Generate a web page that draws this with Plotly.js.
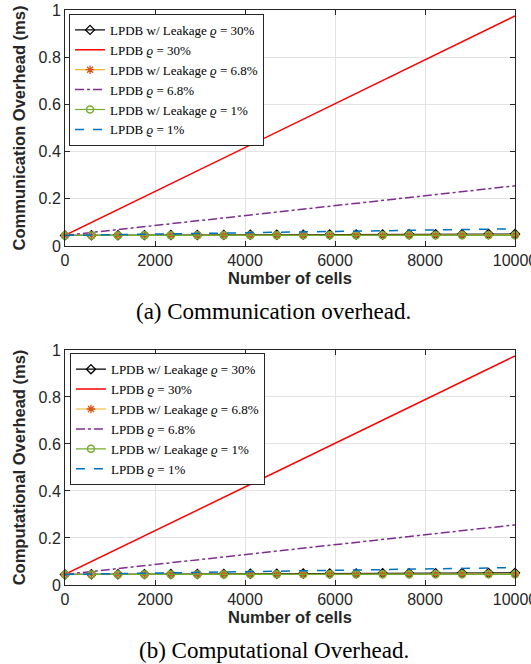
<!DOCTYPE html>
<html>
<head>
<meta charset="utf-8">
<script src="https://cdn.plot.ly/plotly-3.0.1.min.js"></script>
<style>html,body{margin:0;padding:0;background:#fff;}#chart{width:531px;height:664px;}</style>
</head>
<body>
<div id="chart"></div>
<script>
// Number of cells (x values)
var cells = [0, 588, 1176, 1765, 2353, 2941, 3529, 4118, 4706, 5294, 5882, 6471, 7059, 7647, 8235, 8824, 9412, 10000];

// Series names
var seriesNames = [
  "LPDB w/ Leakage <i>ϱ</i> = 30%",
  "LPDB <i>ϱ</i> = 30%",
  "LPDB w/ Leakage <i>ϱ</i> = 6.8%",
  "LPDB <i>ϱ</i> = 6.8%",
  "LPDB w/ Leakage <i>ϱ</i> = 1%",
  "LPDB <i>ϱ</i> = 1%"
];

// (a) Communication overhead (ms)
var commLeak30 = [0.045, 0.0454, 0.0457, 0.0461, 0.0464, 0.0468, 0.0471, 0.0475, 0.0478, 0.0482, 0.0485, 0.0489, 0.0492, 0.0496, 0.0499, 0.0503, 0.0506, 0.051];
var commLpdb30 = [0.045, 0.0997, 0.1544, 0.2091, 0.2638, 0.3185, 0.3732, 0.428, 0.4827, 0.5373, 0.592, 0.6468, 0.7015, 0.7562, 0.8109, 0.8656, 0.9203, 0.975];
var commLeak68 = [0.045, 0.0451, 0.0452, 0.0453, 0.0454, 0.0455, 0.0456, 0.0457, 0.0458, 0.0459, 0.046, 0.0461, 0.0462, 0.0463, 0.0464, 0.0465, 0.0466, 0.0467];
var commLpdb68 = [0.045, 0.0573, 0.0697, 0.0821, 0.0944, 0.1068, 0.1191, 0.1315, 0.1438, 0.1562, 0.1685, 0.1809, 0.1932, 0.2056, 0.2179, 0.2303, 0.2427, 0.255];
var commLeak1 = [0.045, 0.045, 0.045, 0.0451, 0.0451, 0.0451, 0.0451, 0.0452, 0.0452, 0.0452, 0.0453, 0.0453, 0.0453, 0.0453, 0.0454, 0.0454, 0.0454, 0.0455];
var commLpdb1 = [0.045, 0.0466, 0.0483, 0.0499, 0.0516, 0.0532, 0.0549, 0.0565, 0.0582, 0.0598, 0.0615, 0.0631, 0.0648, 0.0664, 0.0681, 0.0697, 0.0714, 0.073];

// (b) Computational overhead (ms)
var compLeak30 = [0.045, 0.0454, 0.0458, 0.0462, 0.0466, 0.047, 0.0474, 0.0477, 0.0481, 0.0485, 0.0489, 0.0493, 0.0497, 0.05, 0.0504, 0.0508, 0.0512, 0.0516];
var compLpdb30 = [0.045, 0.0997, 0.1544, 0.2091, 0.2638, 0.3185, 0.3732, 0.428, 0.4827, 0.5373, 0.592, 0.6468, 0.7015, 0.7562, 0.8109, 0.8656, 0.9203, 0.975];
var compLeak68 = [0.045, 0.0451, 0.0452, 0.0453, 0.0454, 0.0455, 0.0456, 0.0457, 0.0458, 0.0459, 0.046, 0.0461, 0.0462, 0.0463, 0.0464, 0.0465, 0.0466, 0.0467];
var compLpdb68 = [0.045, 0.0574, 0.0698, 0.0822, 0.0946, 0.107, 0.1194, 0.1318, 0.1442, 0.1566, 0.169, 0.1814, 0.1938, 0.2062, 0.2186, 0.231, 0.2434, 0.2558];
var compLeak1 = [0.045, 0.045, 0.045, 0.0451, 0.0451, 0.0451, 0.0451, 0.0452, 0.0452, 0.0452, 0.0453, 0.0453, 0.0453, 0.0453, 0.0454, 0.0454, 0.0454, 0.0455];
var compLpdb1 = [0.045, 0.0467, 0.0484, 0.0501, 0.0518, 0.0535, 0.0552, 0.0569, 0.0586, 0.0603, 0.062, 0.0637, 0.0654, 0.0671, 0.0688, 0.0705, 0.0722, 0.074];

// Tick labels
var xTicks = [0, 2000, 4000, 6000, 8000, 10000];
var xTickText = ["0", "2000", "4000", "6000", "8000", "10000"];
var yTicks = [0, 0.2, 0.4, 0.6, 0.8, 1];
var yTickText = ["0", "0.2", "0.4", "0.6", "0.8", "1"];

var styles = [
  {mode: "lines+markers", line: {color: "#000000", width: 1.2}, marker: {symbol: "diamond-open", size: 7, color: "#000000", line: {width: 1.3}}},
  {mode: "lines", line: {color: "#ff0000", width: 1.5}},
  {mode: "lines+markers", line: {color: "#EDB120", width: 1.2}, marker: {symbol: "asterisk-open", size: 7, color: "#D95319", line: {width: 1.3, color: "#D95319"}}},
  {mode: "lines", line: {color: "#7E2F8E", width: 1.5, dash: "dashdot"}},
  {mode: "lines+markers", line: {color: "#77AC30", width: 1.2}, marker: {symbol: "circle-open", size: 7, color: "#77AC30", line: {width: 1.5, color: "#77AC30"}}},
  {mode: "lines", line: {color: "#0072BD", width: 1.5, dash: "dash"}}
];

function build(series, xa, ya, legendId) {
  return series.map(function (ys, i) {
    var s = styles[i];
    var t = {x: cells, y: ys, name: seriesNames[i], type: "scatter", mode: s.mode, line: s.line,
             xaxis: xa, yaxis: ya, legend: legendId, cliponaxis: false};
    if (s.marker) t.marker = s.marker;
    return t;
  });
}

var data = build([commLeak30, commLpdb30, commLeak68, commLpdb68, commLeak1, commLpdb1], "x", "y", "legend")
  .concat(build([compLeak30, compLpdb30, compLeak68, compLpdb68, compLeak1, compLpdb1], "x2", "y2", "legend2"));

var tickFont = {family: "Liberation Sans, Arial, sans-serif", size: 16, color: "#262626"};
var titleFont = {family: "Liberation Sans, Arial, sans-serif", size: 16.5, color: "#262626", weight: "bold"};

function xAxis(anchor) {
  return {domain: [0, 1], anchor: anchor, range: [0, 10000], tickvals: xTicks, ticktext: xTickText,
    ticks: "inside", ticklen: 5, tickcolor: "#262626", mirror: "ticks", showline: true, linecolor: "#262626", linewidth: 1,
    showgrid: true, gridcolor: "#e3e3e3", zeroline: false, tickfont: tickFont, ticklabeloverflow: "allow",
    title: {text: "<b>Number of cells</b>", font: titleFont, standoff: 2}};
}
function yAxis(anchor, dom, title) {
  return {domain: dom, anchor: anchor, range: [0, 1], tickvals: yTicks, ticktext: yTickText,
    ticks: "inside", ticklen: 5, tickcolor: "#262626", mirror: "ticks", showline: true, linecolor: "#262626", linewidth: 1,
    showgrid: true, gridcolor: "#e3e3e3", zeroline: false, tickfont: tickFont, ticklabeloverflow: "allow",
    title: {text: "<b>" + title + "</b>", font: titleFont, standoff: 8}};
}

var legendFont = {family: "Liberation Serif, Times New Roman, serif", size: 13, color: "#000000"};

var layout = {
  width: 531, height: 664,
  margin: {l: 65, r: 16, t: 0, b: 0},
  paper_bgcolor: "#ffffff", plot_bgcolor: "#ffffff",
  showlegend: true,
  xaxis: xAxis("y"),
  yaxis: yAxis("x", [0.6295, 0.9849], "Communication Overhead (ms)"),
  xaxis2: xAxis("y2"),
  yaxis2: yAxis("x2", [0.119, 0.4729], "Computational Overhead (ms)"),
  legend: {x: 0.009, y: 0.979, xanchor: "left", yanchor: "top", bgcolor: "#ffffff", bordercolor: "#262626", borderwidth: 1,
           font: legendFont, itemwidth: 30, tracegroupgap: 0},
  legend2: {x: 0.011, y: 0.468, xanchor: "left", yanchor: "top", bgcolor: "#ffffff", bordercolor: "#262626", borderwidth: 1,
           font: legendFont, itemwidth: 30, tracegroupgap: 0},
  annotations: [
    {text: "(a) Communication overhead.", xref: "paper", yref: "paper", x: 0.464, y: 1 - 311 / 664, xanchor: "center", yanchor: "middle",
     showarrow: false, font: {family: "Liberation Serif, Times New Roman, serif", size: 23, color: "#000000"}},
    {text: "(b) Computational Overhead.", xref: "paper", yref: "paper", x: 0.464, y: 1 - 650 / 664, xanchor: "center", yanchor: "middle",
     showarrow: false, font: {family: "Liberation Serif, Times New Roman, serif", size: 23, color: "#000000"}}
  ]
};

Plotly.newPlot("chart", data, layout, {displayModeBar: false, staticPlot: true});
</script>
</body>
</html>
